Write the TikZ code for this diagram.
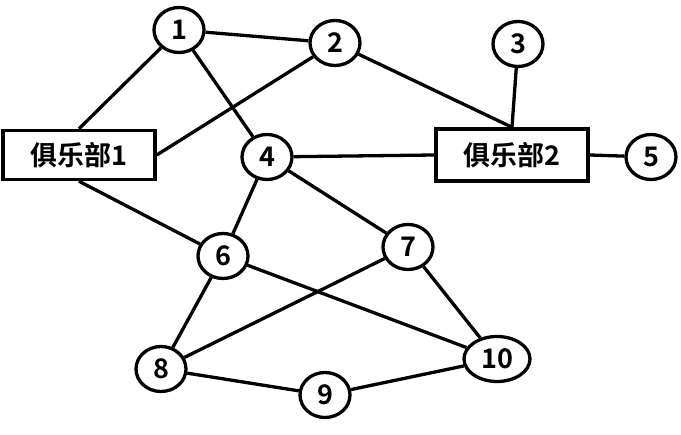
\documentclass[tikz,border=0pt]{standalone}
\usepackage{fontspec}
\newfontfamily\cjk{Noto Sans CJK SC}[BoldFont={Noto Sans CJK SC Bold}]
\usetikzlibrary{shapes.geometric}

\tikzset{
    member/.style={draw, ellipse, line width=3.3pt, minimum width=50pt, minimum height=45pt, inner sep=0pt},
    club/.style={draw, rectangle, line width=3.5pt, minimum width=152pt, minimum height=49pt, inner sep=0pt},
    link/.style={line width=3.3pt}
}

\begin{document}
\begin{tikzpicture}[x=1pt, y=-1pt, font=\cjk\bfseries\fontsize{27}{32}\selectfont]
    % Canvas: same size as the reference, in px
    \useasboundingbox (0,0) rectangle (681,435);

    % Clubs
    \node[club] (club1) at (79,155) {俱乐部1};
    \node[club, minimum height=52pt] (club2) at (512,155) {俱乐部2};

    % Members
    \node[member] (m1) at (179,30) {1};
    \node[member] (m2) at (335,43) {2};
    \node[member] (m3) at (518,44) {3};
    \node[member] (m4) at (267,157) {4};
    \node[member] (m5) at (651,157) {5};
    \node[member] (m6) at (223,256) {6};
    \node[member] (m7) at (408,247) {7};
    \node[member] (m8) at (161,369) {8};
    \node[member] (m9) at (325,395) {9};
    \node[member, minimum width=66pt] (m10) at (497,359) {10};

    % Links to the clubs
    \draw[link] (club1.north) -- (m1);
    \draw[link] (club1.east) -- (m2);
    \draw[link] (club1.south) -- (m6);
    \draw[link] (club2.north) -- (m2);
    \draw[link] (club2.north) -- (m3);
    \draw[link] (club2.west) -- (m4);
    \draw[link] (club2.east) -- (m5);

    % Links between members
    \draw[link] (m1) -- (m2);
    \draw[link] (m1) -- (m4);
    \draw[link] (m4) -- (m6);
    \draw[link] (m4) -- (m7);
    \draw[link] (m6) -- (m8);
    \draw[link] (m6) -- (m10);
    \draw[link] (m7) -- (m8);
    \draw[link] (m7) -- (m10);
    \draw[link] (m8) -- (m9);
    \draw[link] (m9) -- (m10);

\end{tikzpicture}
\end{document}
